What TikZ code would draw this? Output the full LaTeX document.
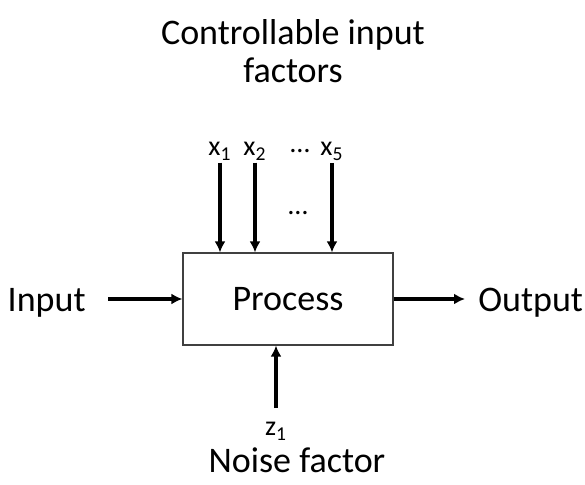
\documentclass[tikz,border=0pt]{standalone}
\usepackage{fontspec}
\setmainfont{Carlito}
\usetikzlibrary{arrows.meta,positioning}
\tikzset{
    procbox/.style={draw=black!75, line width=0.6pt, minimum width=105pt,
        minimum height=46pt, inner sep=0pt},
    flowarrow/.style={-{Latex[length=5.5pt,width=5.5pt]}, line width=1.7pt},
    biglabel/.style={font=\fontsize{18}{19}\selectfont, inner sep=1pt},
    factorlabel/.style={font=\fontsize{14}{16}\selectfont, inner sep=1pt}
}

\begin{document}
\begin{tikzpicture}[x=0.5pt, y=-0.5pt]
    \useasboundingbox (0,0) rectangle (585,485);

    \node[biglabel, procbox] (process) at (288,299) {Process};
    \node[biglabel, anchor=base east] (input) at (88,312) {Input};
    \node[biglabel, anchor=base west] (output) at (476,312) {Output};

    \node[biglabel, align=center, anchor=base] (ctrl) at (293,83)
        {Controllable input\\factors};
    \node[factorlabel, anchor=base] (x1) at (220,156) {x\textsubscript{1}};
    \node[factorlabel, anchor=base] (x2) at (255,156) {x\textsubscript{2}};
    \node[factorlabel, anchor=base] (x5) at (332,156) {x\textsubscript{5}};
    \node[factorlabel, anchor=base] (topdots) at (300,153) {…};
    \node[factorlabel, anchor=base] (middots) at (298,215) {…};

    \node[factorlabel, anchor=base] (z1) at (276,436) {z\textsubscript{1}};
    \node[biglabel, anchor=base] (noise) at (297,473) {Noise factor};

    \draw[flowarrow, shorten <=10pt] (input.east |- process.west) -- (process.west);
    \draw[flowarrow, shorten >=5.5pt] (process.east) -- (output.west |- process.east);
    \foreach \f in {x1,x2,x5}
        \draw[flowarrow] (\f.south) -- (\f.south |- process.north);
    \draw[flowarrow, shorten <=6pt] (z1.north) -- (z1.north |- process.south);
\end{tikzpicture}
\end{document}
